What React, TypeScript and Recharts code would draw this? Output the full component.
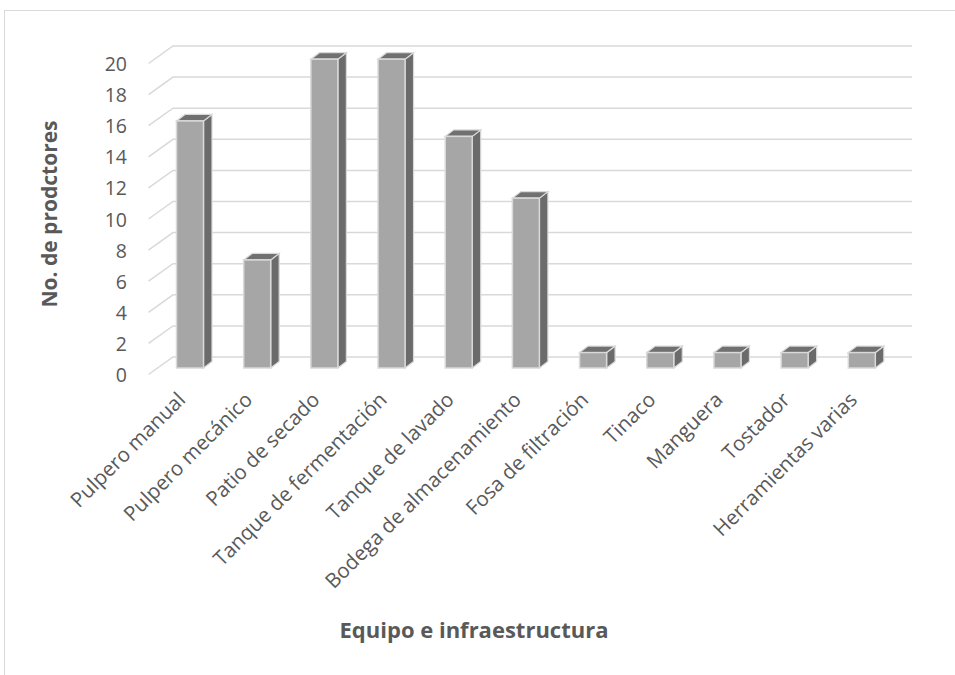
import React from 'react';
import { BarChart, Bar, XAxis, YAxis, CartesianGrid } from 'recharts';

const categories = [
  'Pulpero manual',
  'Pulpero mecánico',
  'Patio de secado',
  'Tanque de fermentación',
  'Tanque de lavado',
  'Bodega de almacenamiento',
  'Fosa de filtración',
  'Tinaco',
  'Manguera',
  'Tostador',
  'Herramientas varias',
];
const productores = [16, 7, 20, 20, 15, 11, 1, 1, 1, 1, 1];
const yTicks = [0, 2, 4, 6, 8, 10, 12, 14, 16, 18, 20];

const data = categories.map((name, i) => ({ name, value: productores[i] }));

const FONT = '"Open Sans", "Noto Sans", sans-serif';
const TEXT = '#595959';

// 3D column: front face shifted toward the viewer, plus side and top faces
const Column3D = (props: any) => {
  const { x, y, width, height } = props;
  const base = y + height;
  const fx = x - 16.5;
  const fb = base + 11;
  const ft = fb - height * 0.993;
  const dx = 8.5;
  const dy = -6.5;
  const w = width;
  const edge = '#d9d9d9';
  return (
    <g>
      <path
        d={`M${fx + w},${ft} L${fx + w + dx},${ft + dy} L${fx + w + dx},${fb + dy} L${fx + w},${fb} Z`}
        fill="#6b6b6b"
        stroke={edge}
        strokeWidth={1.2}
      />
      <path
        d={`M${fx},${ft} L${fx + dx},${ft + dy} L${fx + w + dx},${ft + dy} L${fx + w},${ft} Z`}
        fill="#707070"
        stroke={edge}
        strokeWidth={1.2}
      />
      <rect x={fx} y={ft} width={w} height={fb - ft} fill="#a6a6a6" stroke={edge} strokeWidth={1.5} />
    </g>
  );
};

const GridLine = (props: any) => {
  const { x1, y1, x2, y2 } = props;
  return (
    <path
      d={`M${x1 - 24.5},${y1 + 17.5} L${x1},${y1} L${x2},${y2}`}
      fill="none"
      stroke="#d9d9d9"
      strokeWidth={1.5}
    />
  );
};

const YTick = (props: any) => {
  const { y, payload } = props;
  return (
    <text x={127} y={y + 25} textAnchor="end" fontSize={19.5} fill={TEXT} fontFamily={FONT}>
      {payload.value}
    </text>
  );
};

const XTick = (props: any) => {
  const { x, payload } = props;
  const ax = x - 20;
  const ay = 401;
  return (
    <text
      x={ax}
      y={ay}
      textAnchor="end"
      fontSize={20.5}
      fill={TEXT}
      fontFamily={FONT}
      transform={`rotate(-45, ${ax}, ${ay})`}
    >
      {payload.value}
    </text>
  );
};

export default function App() {
  return (
    <div style={{ position: 'absolute', left: 0, top: 0, width: 955, height: 675, background: '#fff', overflow: 'hidden' }}>
      <div
        style={{
          position: 'absolute',
          left: 4,
          top: 10,
          width: 1000,
          height: 700,
          border: '1px solid #d9d9d9',
        }}
      />
      <BarChart
        width={955}
        height={675}
        data={data}
        margin={{ top: 46, right: 43, bottom: 258, left: 113 }}
        style={{ position: 'absolute', left: 0, top: 0 }}
      >
        <CartesianGrid vertical={false} horizontal={GridLine} />
        <XAxis
          dataKey="name"
          height={60}
          axisLine={false}
          tickLine={false}
          interval={0}
          tick={XTick}
        />
        <YAxis
          width={60}
          domain={[0, 20]}
          ticks={yTicks}
          axisLine={false}
          tickLine={false}
          tick={YTick}
          interval={0}
        />
        <Bar dataKey="value" barSize={27} shape={Column3D} isAnimationActive={false} />
      </BarChart>
      <div
        style={{
          position: 'absolute',
          left: 0,
          width: 948,
          top: 614,
          textAlign: 'center',
          fontFamily: FONT,
          fontWeight: 700,
          fontSize: 22,
          color: TEXT,
        }}
      >
        Equipo e infraestructura
      </div>
      <div
        style={{
          position: 'absolute',
          left: 49,
          top: 214,
          transform: 'translate(-50%, -50%) rotate(-90deg)',
          whiteSpace: 'nowrap',
          fontFamily: FONT,
          fontWeight: 700,
          fontSize: 21,
          color: TEXT,
        }}
      >
        No. de prodctores
      </div>
    </div>
  );
}
